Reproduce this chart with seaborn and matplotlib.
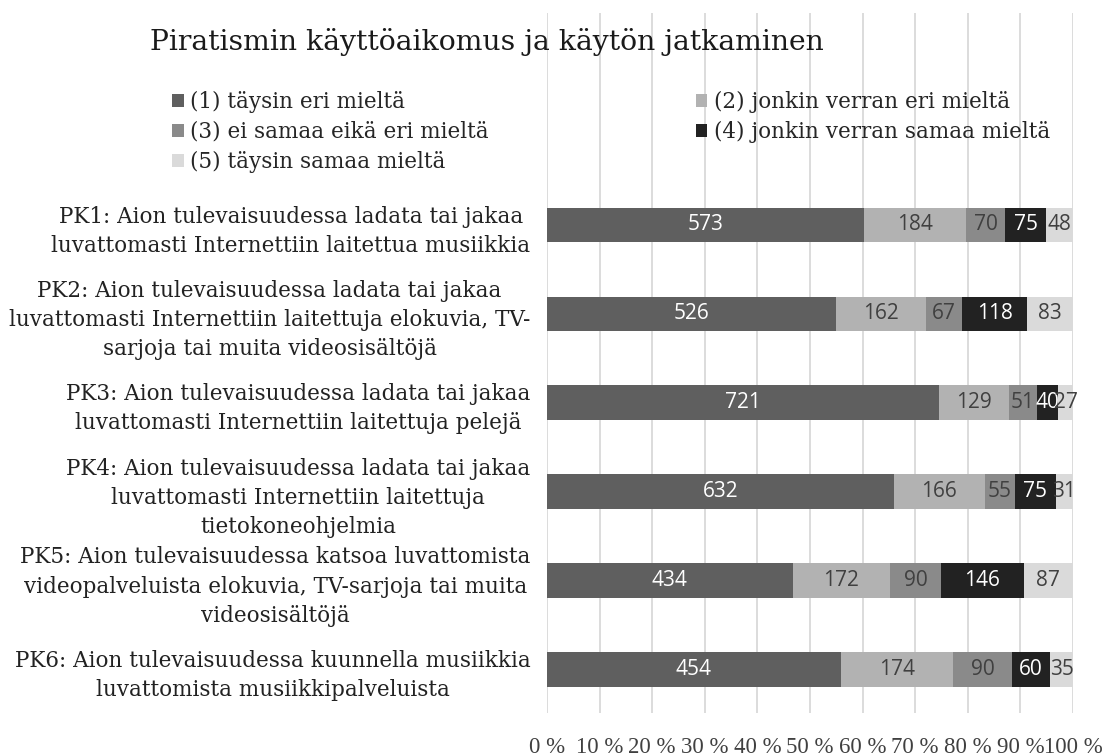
import numpy as np
import pandas as pd
import seaborn as sns
import matplotlib.pyplot as plt
from matplotlib.patches import Patch

title = "Piratismin käyttöaikomus ja käytön jatkaminen"
categories = [
    "PK1: Aion tulevaisuudessa ladata tai jakaa\nluvattomasti Internettiin laitettua musiikkia",
    "PK2: Aion tulevaisuudessa ladata tai jakaa\nluvattomasti Internettiin laitettuja elokuvia, TV-\nsarjoja tai muita videosisältöjä",
    "PK3: Aion tulevaisuudessa ladata tai jakaa\nluvattomasti Internettiin laitettuja pelejä",
    "PK4: Aion tulevaisuudessa ladata tai jakaa\nluvattomasti Internettiin laitettuja\ntietokoneohjelmia",
    "PK5: Aion tulevaisuudessa katsoa luvattomista\nvideopalveluista elokuvia, TV-sarjoja tai muita\nvideosisältöjä",
    "PK6: Aion tulevaisuudessa kuunnella musiikkia\nluvattomista musiikkipalveluista",
]
series_names = [
    "(1) täysin eri mieltä",
    "(2) jonkin verran eri mieltä",
    "(3) ei samaa eikä eri mieltä",
    "(4) jonkin verran samaa mieltä",
    "(5) täysin samaa mieltä",
]
s1 = [573, 526, 721, 632, 434, 454]
s2 = [184, 162, 129, 166, 172, 174]
s3 = [70, 67, 51, 55, 90, 90]
s4 = [75, 118, 40, 75, 146, 60]
s5 = [48, 83, 27, 31, 87, 35]
xticks = [0, 10, 20, 30, 40, 50, 60, 70, 80, 90, 100]
xtick_labels = ["0 %", "10 %", "20 %", "30 %", "40 %", "50 %", "60 %", "70 %", "80 %", "90 %", "100 %"]

colors = ["#5f5f5f", "#b2b2b2", "#8a8a8a", "#222222", "#dadada"]
label_colors = ["white", "#404040", "#404040", "white", "#404040"]

sns.set_theme(style="white")
plt.rcParams["font.family"] = ["DejaVu Serif", "Liberation Serif"]

fig = plt.figure(figsize=(11.05, 7.56), dpi=100)
ax = fig.add_axes([547 / 1105, 1 - 713 / 756, (1073 - 547) / 1105, 700 / 756])

vals = np.array([s1, s2, s3, s4, s5], dtype=float).T
pct = vals / vals.sum(axis=1, keepdims=True) * 100
cum = pct.cumsum(axis=1)

for k in reversed(range(5)):
    df = pd.DataFrame({"cat": categories, "value": cum[:, k]})
    sns.barplot(data=df, x="value", y="cat", orient="h", color=colors[k],
                saturation=1, width=0.39, linewidth=0, ax=ax, order=categories)

for i in range(len(categories)):
    for k in range(5):
        center = cum[i, k] - pct[i, k] / 2
        ax.text(center, i, f"{int(vals[i, k])}", ha="center", va="center",
                color=label_colors[k], fontsize=15, family=["Open Sans", "DejaVu Sans"])

ax.set_xlim(0, 100)
ax.set_ylim(5.49, -2.385)
ax.set_xticks(xticks)
ax.set_xticklabels(xtick_labels, fontsize=16.5, color="#404040",
                   family=["Liberation Serif", "DejaVu Serif"])
ax.set_yticks(range(len(categories)))
ax.set_yticklabels(categories, fontsize=15.5, color="#222222", multialignment="center",
                   linespacing=1.42)
ax.tick_params(axis="x", length=0, pad=17)
ax.tick_params(axis="y", length=0, pad=12)
ax.set_xlabel("")
ax.set_ylabel("")
ax.xaxis.grid(True, color="#d9d9d9", linewidth=1.3)
ax.yaxis.grid(False)
ax.set_axisbelow(True)
for sp in ax.spines.values():
    sp.set_visible(False)

fig.text(487 / 1105, 1 - 42 / 756, title, ha="center", va="center", fontsize=20.3, color="#1a1a1a")

order = [0, 2, 4, 1, 3]
handles = [Patch(facecolor=colors[k], edgecolor="none") for k in order]
labels = [series_names[k] for k in order]
fig.legend(handles, labels, ncol=2, loc="upper left", bbox_to_anchor=(172 / 1105, 1 - 91 / 756),
           frameon=False, fontsize=15.5, handlelength=0.55, handleheight=0.55,
           handletextpad=0.3, columnspacing=9.6, labelspacing=0.36, borderpad=0, borderaxespad=0)

fig.savefig("out.png", dpi=100, facecolor="white")
